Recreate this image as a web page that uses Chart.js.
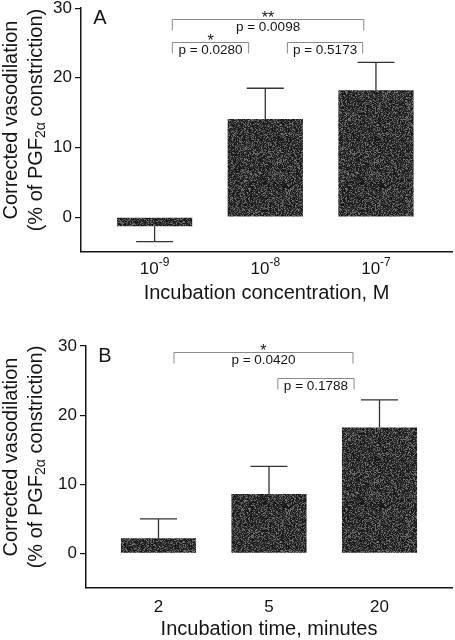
<!DOCTYPE html>
<html>
<head>
<meta charset="utf-8">
<script src="https://cdn.jsdelivr.net/npm/chart.js@4.4.0/dist/chart.umd.min.js"></script>
<style>
  body { margin: 0; background: #fff; }
  .panel { position: absolute; left: 0; width: 455px; height: 320px; }
</style>
</head>
<body>
<div class="panel" style="top:0"><canvas id="chartA" width="455" height="320"></canvas></div>
<div class="panel" style="top:320px"><canvas id="chartB" width="455" height="320"></canvas></div>
<script>
// --- Data ---
// concentration labels: base + exponent (drawn as a superscript)
const concBase = ['10', '10', '10'];
const concExp = ['-9', '-8', '-7'];
const concMeans = [-1.3, 14.1, 18.2];
const concSem = [2.2, 4.4, 4.0];

const timeLabels = ['2', '5', '20'];
const timeMeans = [2.2, 8.6, 18.2];
const timeSem = [2.8, 4.0, 4.0];

const yTicks = [0, 10, 20, 30];

// significance brackets (ends in bar units, level in y units)
const concComparisons = [
    { from: 0.16, to: 1.89, level: 28.5, p: 'p = 0.0098', stars: '**' },
    { from: 0.16, to: 0.85, level: 25.2, p: 'p = 0.0280', stars: '*' },
    { from: 1.20, to: 1.88, level: 25.2, p: 'p = 0.5173', stars: '' }
];
const timeComparisons = [
    { from: 0.14, to: 1.76, level: 29.1, p: 'p = 0.0420', stars: '*' },
    { from: 1.08, to: 1.77, level: 25.4, p: 'p = 0.1788', stars: '' }
];

const FONT = "'Liberation Sans', Arial, sans-serif";
const INK = '#151515';

// grainy dark fill like the printed bars
function makeTexture() {
    const c = document.createElement('canvas');
    c.width = c.height = 97;
    const g = c.getContext('2d');
    const img = g.createImageData(97, 97);
    for (let i = 0; i < 97 * 97; i++) {
        let h = Math.sin(i * 12.9898 + 78.233) * 43758.5453;
        h -= Math.floor(h);
        const v = 20 + Math.round(h * h * 105);
        img.data[i * 4] = v; img.data[i * 4 + 1] = v; img.data[i * 4 + 2] = v; img.data[i * 4 + 3] = 255;
    }
    g.putImageData(img, 0, 0);
    return g.createPattern(c, 'repeat');
}
const texture = makeTexture();

function makeChart(id, p) {
    const errorBars = {
        id: 'errorBars',
        afterDatasetsDraw(chart) {
            const { ctx, scales: { y } } = chart;
            const meta = chart.getDatasetMeta(0);
            ctx.save();
            ctx.strokeStyle = '#333';
            ctx.lineWidth = 1.3;
            p.means.forEach((m, i) => {
                const px = meta.data[i].x;
                const end = m < 0 ? m - p.sem[i] : m + p.sem[i];
                const y0 = y.getPixelForValue(m), y1 = y.getPixelForValue(end);
                ctx.beginPath();
                ctx.moveTo(px, y0); ctx.lineTo(px, y1);
                ctx.moveTo(px - 18.5, y1); ctx.lineTo(px + 18.5, y1);
                ctx.stroke();
            });
            ctx.restore();
        }
    };

    const annotations = {
        id: 'annotations',
        afterDraw(chart) {
            const { ctx, chartArea: a, scales: { x, y } } = chart;
            ctx.save();
            ctx.fillStyle = INK;

            // panel letter
            ctx.font = '20px ' + FONT;
            ctx.textAlign = 'center';
            ctx.textBaseline = 'middle';
            ctx.fillText(p.letter, a.left + 19, a.top + 10);

            // brackets
            p.comparisons.forEach(c => {
                const x1 = x.getPixelForValue(c.from), x2 = x.getPixelForValue(c.to);
                const yl = Math.round(y.getPixelForValue(c.level)) + 0.5;
                ctx.strokeStyle = '#8a8a8a';
                ctx.lineWidth = 1;
                ctx.beginPath();
                ctx.moveTo(x1, yl + 11); ctx.lineTo(x1, yl); ctx.lineTo(x2, yl); ctx.lineTo(x2, yl + 11);
                ctx.stroke();
                const cx = (x1 + x2) / 2;
                ctx.font = '13.5px ' + FONT;
                ctx.textBaseline = 'middle';
                ctx.fillText(c.p, cx, yl + 8);
                if (c.stars) {
                    ctx.font = '16px ' + FONT;
                    ctx.textBaseline = 'alphabetic';
                    ctx.fillText(c.stars, cx, yl + 3);
                }
            });

            // superscript tick labels (10^-9 ...)
            if (p.supBase) {
                ctx.textAlign = 'left';
                ctx.textBaseline = 'alphabetic';
                p.supBase.forEach((b, i) => {
                    const px = x.getPixelForValue(i);
                    ctx.font = '17px ' + FONT;
                    const wb = ctx.measureText(b).width;
                    ctx.font = '12px ' + FONT;
                    const we = ctx.measureText(p.supExp[i]).width;
                    const left = px - (wb + we) / 2;
                    ctx.font = '17px ' + FONT;
                    ctx.fillText(b, left, a.bottom + 22);
                    ctx.font = '12px ' + FONT;
                    ctx.fillText(p.supExp[i], left + wb, a.bottom + 14);
                });
                ctx.textAlign = 'center';
            }

            // x title
            ctx.font = '20px ' + FONT;
            ctx.textBaseline = 'middle';
            ctx.fillText(p.xTitle, (a.left + a.right) / 2, a.bottom + 41);

            // y title, two lines with subscript
            const cy = (a.top + a.bottom) / 2 - 10;
            ctx.save();
            ctx.translate(11, cy);
            ctx.rotate(-Math.PI / 2);
            ctx.fillText('Corrected vasodilation', 0, 0);
            ctx.restore();

            ctx.save();
            ctx.translate(36, cy);
            ctx.rotate(-Math.PI / 2);
            ctx.textAlign = 'left';
            const big = '20px ' + FONT, small = '14px ' + FONT;
            const parts = [['(% of PGF', big, 0], ['2α', small, 5], [' constriction)', big, 0]];
            let total = 0;
            parts.forEach(pt => { ctx.font = pt[1]; total += ctx.measureText(pt[0]).width; });
            let cx = -total / 2;
            parts.forEach(pt => {
                ctx.font = pt[1];
                ctx.fillText(pt[0], cx, pt[2]);
                cx += ctx.measureText(pt[0]).width;
            });
            ctx.restore();

            ctx.restore();
        }
    };

    return new Chart(document.getElementById(id), {
        type: 'bar',
        data: {
            datasets: [{
                data: p.means.map((m, i) => ({ x: i, y: m })),
                backgroundColor: texture,
                borderWidth: 0,
                categoryPercentage: 1,
                barPercentage: 0.68
            }]
        },
        options: {
            responsive: false,
            animation: false,
            layout: { padding: { top: p.padTop, right: 3, left: 0, bottom: 0 } },
            plugins: { legend: { display: false }, tooltip: { enabled: false } },
            scales: {
                x: {
                    type: 'linear',
                    offset: false,
                    min: p.xMin, max: p.xMax,
                    afterBuildTicks: s => { s.ticks = p.means.map((m, i) => ({ value: i })); },
                    afterFit: s => { s.height = p.xHeight; },
                    grid: { display: false, offset: false },
                    border: { display: true, color: INK, width: 1.5 },
                    ticks: {
                        display: !p.supBase,
                        callback: v => (p.labels ? p.labels[v] : ''),
                        autoSkip: false, maxRotation: 0,
                        padding: 1, color: INK,
                        font: { family: FONT, size: 17 }
                    }
                },
                y: {
                    min: -5, max: 30,
                    afterBuildTicks: s => { s.ticks = yTicks.map(v => ({ value: v })); },
                    afterFit: s => { s.width = p.yWidth; },
                    grid: { drawOnChartArea: false, drawTicks: true, tickLength: 6, color: INK, lineWidth: 1.2 },
                    border: { color: INK, width: 1.5 },
                    ticks: { color: INK, padding: 3, font: { family: FONT, size: 17, lineHeight: 0.6 } }
                }
            }
        },
        plugins: [errorBars, annotations]
    });
}

makeChart('chartA', {
    supBase: concBase, supExp: concExp, means: concMeans, sem: concSem, comparisons: concComparisons,
    letter: 'A', xTitle: 'Incubation concentration, M',
    yWidth: 81, xHeight: 68, padTop: 7, xMin: -0.665, xMax: 2.687
});
makeChart('chartB', {
    labels: timeLabels, means: timeMeans, sem: timeSem, comparisons: timeComparisons,
    letter: 'B', xTitle: 'Incubation time, minutes',
    yWidth: 86, xHeight: 52, padTop: 26, xMin: -0.656, xMax: 2.656
});
</script>
</body>
</html>
